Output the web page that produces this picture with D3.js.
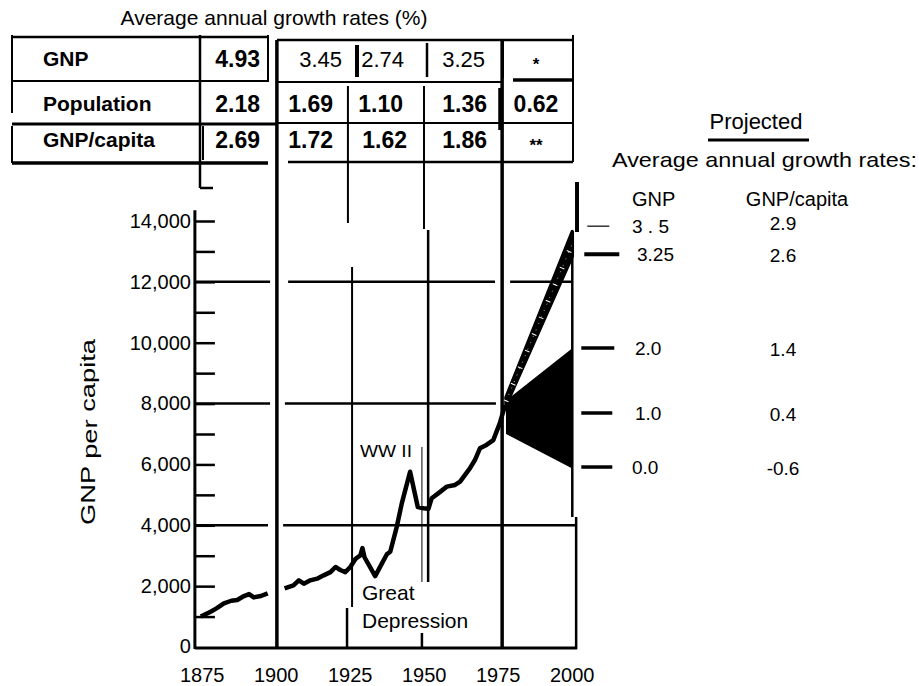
<!DOCTYPE html>
<html><head><meta charset="utf-8">
<script src="https://cdn.jsdelivr.net/npm/d3@7"></script>
<style>
html,body{margin:0;padding:0;background:#fff;}
svg{display:block;background:#fff;}
text{font-family:"Liberation Sans",Arial,Helvetica,sans-serif;fill:#000;}
</style></head><body>
<svg id="c" width="919" height="686"></svg>
<script>
// ---------------- DATA ----------------
const rowLabels      = ["GNP", "Population", "GNP/capita"];
const rate1875_1900  = ["4.93", "2.18", "2.69"];
const rate1900_1929  = ["3.45", "1.69", "1.72"];
const rate1929_1950  = ["2.74", "1.10", "1.62"];
const rate1950_1975  = ["3.25", "1.36", "1.86"];
const rate1975_2000  = ["*", "0.62", "**"];

const yMajorTicks  = [0, 2000, 4000, 6000, 8000, 10000, 12000, 14000];
const yMajorLabels = ["0", "2,000", "4,000", "6,000", "8,000", "10,000", "12,000", "14,000"];
const yMinorTicks  = [1000, 3000, 5000, 7000, 9000, 11000, 13000];
const xTickYears   = [1875, 1900, 1925, 1950, 1975, 2000];

// GNP per capita, historical
const histYears1 = [1874.7, 1878, 1880, 1882.5, 1885, 1887, 1889.3, 1891, 1892.6, 1895, 1897.3];
const histGnpPc1 = [1000, 1160, 1270, 1435, 1520, 1545, 1675, 1740, 1630, 1675, 1765];
const histYears2 = [1903, 1906, 1907.8, 1909.5, 1911.7, 1914, 1916.2, 1918.5, 1920.2, 1921.8, 1923.5, 1925.2, 1927, 1928.6, 1929.3, 1930, 1933.6, 1935.9, 1937.6, 1938.7, 1940.9, 1942.6, 1945.4, 1948, 1950, 1951.6, 1952.7, 1954.9, 1957.8, 1960.6, 1962.3, 1963.9, 1965.6, 1967.3, 1969, 1971.2, 1973.5, 1975.7, 1977.5];
const histGnpPc2 = [1930, 2025, 2190, 2080, 2190, 2245, 2355, 2460, 2630, 2530, 2460, 2630, 2900, 3010, 3250, 2950, 2330, 2750, 3055, 3130, 3950, 4720, 5760, 4600, 4560, 4540, 4890, 5050, 5270, 5325, 5435, 5650, 5870, 6145, 6530, 6640, 6800, 7350, 7950];

// Projections to 2000
const projYears      = [1977.8, 2000.2];
const projFastUpper  = [8200, 13650];
const projFastLower  = [7950, 12850];
const projRangeUpper = [8100, 9820];
const projRangeLower = [7000, 5870];

const projGnpRates   = ["3 . 5", "3.25", "2.0", "1.0", "0.0"];
const projPcRates    = ["2.9", "2.6", "1.4", "0.4", "-0.6"];
const projLevels2000 = [13830, 12910, 9830, 7690, 5915];

// ---------------- SETUP ----------------
const svg = d3.select("#c");
const x = d3.scaleLinear().domain([1875, 2000]).range([201.7, 571.7]);
const y = d3.scaleLinear().domain([0, 14000]).range([647, 221]);
const axisYear = 1872.7;
const F = '"Liberation Sans",Arial,Helvetica,sans-serif';

function seg(g, x1, y1, x2, y2, w) {
  g.append("line").attr("x1", x1).attr("y1", y1).attr("x2", x2).attr("y2", y2)
    .attr("stroke", "#000").attr("stroke-width", w);
}

// ---------------- TABLE ----------------
const tbl = svg.append("g");
svg.append("text").attr("x", 274).attr("y", 25).attr("text-anchor", "middle")
  .attr("font-size", 21).attr("textLength", 307).attr("lengthAdjust", "spacingAndGlyphs")
  .text("Average annual growth rates (%)");

[[12,268,37,2.5],[277,573,40,2.5],[12,268,81,2],[277,503,82,2],[513,573,80,3.5],
 [12,277,124,3],[277,573,123,2],[12,268,163,3.5],[288,573,162,2.5],[200,213,188,2.5]]
 .forEach(d => seg(tbl, d[0], d[2], d[1], d[2], d[3]));
[[12,35,113,2],[12,126,163,2],[200,35,188,2.5],[203,126,160,2],[268,35,82,2],[357,45,77,4],
 [427,43,77,2.5],[503,40,78,2],[573,35,162,2],[500,88,130,3.5]]
 .forEach(d => seg(tbl, d[0], d[1], d[0], d[2], d[3]));

const rowBase = [66, 111, 147];
rowLabels.forEach((t, i) => tbl.append("text").attr("x", 43).attr("y", rowBase[i])
  .attr("font-size", 21).attr("font-weight", "bold").text(t));
const cols = [
  {vals: rate1875_1900, right: [260, 260, 260], bold: [true, true, true]},
  {vals: rate1900_1929, right: [342, 333, 333], bold: [false, true, true]},
  {vals: rate1929_1950, right: [404, 403, 407], bold: [false, true, true]},
  {vals: rate1950_1975, right: [485, 487, 487], bold: [false, true, true]},
];
cols.forEach(c => c.vals.forEach((v, i) => tbl.append("text")
  .attr("x", c.right[i]).attr("y", rowBase[i] + 1).attr("text-anchor", "end")
  .attr("font-size", c.bold[i] ? 23 : 22).attr("font-weight", c.bold[i] ? "bold" : "normal").text(v)));
rate1975_2000.forEach((v, i) => tbl.append("text")
  .attr("x", 536).attr("y", i === 1 ? rowBase[i] + 1 : rowBase[i] + 4)
  .attr("text-anchor", "middle").attr("font-size", i === 1 ? 23 : 17).attr("font-weight", "bold")
  .text(v));

// ---------------- CHART FRAME ----------------
const fr = svg.append("g");
// gridlines (value, from-year, to-year)
[[12000,axisYear,1898.1],[12000,1904.2,1974.1],[12000,1979.2,2000.2],
 [8000,axisYear,1898.1],[8000,1903.1,1974.4],
 [4000,axisYear,1897.4],[4000,1902.5,2001.5]]
 .forEach(d => seg(fr, x(d[1]), y(d[0]), x(d[2]), y(d[0]), 2.5));
// period lines (year, y-top px, y-bottom px, width)
[[1900.4,40,649,3.5],[1924.4,86,223,2],[1925.8,267,607,2],[1924.1,608,649,2.5],
 [1950.1,86,229,2],[1951.5,230,582,2.5],[1949.4,447,582,1],[1949.4,633,649,2.5],
 [1976.5,40,649,3.5],[2001.8,182,232,4],[2000.2,232,517,2.5],[2001.5,517,649,2.5]]
 .forEach(d => seg(fr, x(d[0]), d[1], x(d[0]), d[2], d[3]));

// y axis
const yAxis = d3.axisLeft(y)
  .tickValues(yMajorTicks.concat(yMinorTicks).filter(v => v > 0))
  .tickSizeInner(-20).tickSizeOuter(0).tickPadding(4)
  .tickFormat(v => { const k = yMajorTicks.indexOf(v); return k >= 0 ? yMajorLabels[k] : ""; });
const ya = svg.append("g").attr("transform", `translate(${x(axisYear)},0)`).call(yAxis);
ya.select(".domain").remove();
ya.selectAll(".tick line").attr("stroke-width", 2.5);
ya.selectAll(".tick text").attr("font-size", 20).attr("font-family", F).attr("fill", "#000");
ya.append("text").attr("x", -4).attr("y", y(0)).attr("dy", "0.32em").attr("text-anchor", "end")
  .attr("font-size", 20).text(yMajorLabels[0]);
seg(svg, x(axisYear), y(0) + 2, x(axisYear), y(14350), 3);

// x axis
const xAxis = d3.axisBottom(x).tickValues(xTickYears).tickSize(0).tickPadding(21).tickFormat(d3.format("d"));
const xa = svg.append("g").attr("transform", `translate(0,${y(0)})`).call(xAxis);
xa.select(".domain").remove();
xa.selectAll(".tick text").attr("font-size", 20).attr("font-family", F).attr("fill", "#000");
seg(svg, x(axisYear), y(0) + 1, x(2001.8), y(0) + 1, 3);

// y label
const yl = svg.append("text").attr("transform", `translate(95,${432}) rotate(-90)`)
  .attr("text-anchor", "middle").attr("font-size", 21).attr("textLength", 186).attr("lengthAdjust", "spacingAndGlyphs");
yl.append("tspan").text("GNP ");
yl.append("tspan").attr("dy", 2).text("per");
yl.append("tspan").attr("dy", -2).text(" capita");

// ---------------- PROJECTIONS ----------------
const fast = projYears.map((yr, i) => ({yr, lo: projFastLower[i], hi: projFastUpper[i]}));
const range = projYears.map((yr, i) => ({yr, lo: projRangeLower[i], hi: projRangeUpper[i]}));
const area = d3.area().x(d => x(d.yr)).y0(d => y(d.lo)).y1(d => y(d.hi));
svg.append("path").datum(range).attr("d", area).attr("fill", "#000");
svg.append("path").datum(fast).attr("d", area).attr("fill", "#000")
  .attr("stroke", "#000").attr("stroke-width", 3.5).attr("stroke-linejoin", "round");
const mid = projYears.map((yr, i) => [yr, (projFastLower[i] + projFastUpper[i]) / 2]);
const lineGen = d3.line().x(d => x(d[0])).y(d => y(d[1]));
svg.append("path").datum(mid).attr("d", lineGen).attr("fill", "none")
  .attr("stroke", "#fff").attr("stroke-width", 5).attr("stroke-dasharray", "1,17");
svg.append("path").datum(mid).attr("d", lineGen).attr("fill", "none")
  .attr("stroke", "#fff").attr("stroke-width", 0.7).attr("stroke-dasharray", "1,6");

// ---------------- HISTORICAL LINE ----------------
const s1 = histYears1.map((yr, i) => [yr, histGnpPc1[i]]);
const s2 = histYears2.map((yr, i) => [yr, histGnpPc2[i]]);
[s1, s2].forEach(s => svg.append("path").datum(s).attr("d", lineGen).attr("fill", "none")
  .attr("stroke", "#000").attr("stroke-width", 4.5).attr("stroke-linejoin", "round"));

// ---------------- ANNOTATIONS ----------------
svg.append("text").attr("x", 360).attr("y", 457).attr("font-size", 16)
  .attr("textLength", 52).attr("lengthAdjust", "spacingAndGlyphs").text("WW II");
svg.append("text").attr("x", 362).attr("y", 600).attr("font-size", 21).text("Great");
svg.append("text").attr("x", 362).attr("y", 628).attr("font-size", 21).text("Depression");

// ---------------- RIGHT PANEL ----------------
const rp = svg.append("g");
rp.append("text").attr("x", 756).attr("y", 129).attr("text-anchor", "middle").attr("font-size", 22).text("Projected");
seg(rp, 708, 140, 809, 140, 3);
rp.append("text").attr("x", 612).attr("y", 167).attr("font-size", 21)
  .attr("textLength", 305).attr("lengthAdjust", "spacingAndGlyphs").text("Average annual growth rates:");
rp.append("text").attr("x", 632).attr("y", 206).attr("font-size", 20).text("GNP");
rp.append("text").attr("x", 797).attr("y", 206).attr("text-anchor", "middle").attr("font-size", 20).text("GNP/capita");

const dashX = [[x(2000.2) + 15, x(2000.2) + 37, 1.2], [x(2000.2) + 12, x(2000.2) + 47, 4],
               [x(2000.2) + 9, x(2000.2) + 42, 3.5], [x(2000.2) + 9, x(2000.2) + 40, 3.5],
               [x(2000.2) + 9, x(2000.2) + 40, 3.5]];
const gnpX = [632, 637, 635, 635, 632];
const pcFonts = [F, F, '"Liberation Serif","Times New Roman",serif', F, F];
projLevels2000.forEach((v, i) => {
  const yy = y(v);
  seg(rp, dashX[i][0], yy, dashX[i][1], yy, dashX[i][2]);
  rp.append("text").attr("x", gnpX[i]).attr("y", yy + 7).attr("font-size", 19).text(projGnpRates[i]);
  rp.append("text").attr("x", 783).attr("y", yy + (i === 0 ? 4 : 8)).attr("text-anchor", "middle")
    .attr("font-size", 19).attr("font-family", pcFonts[i]).text(projPcRates[i]);
});
</script>
</body></html>
